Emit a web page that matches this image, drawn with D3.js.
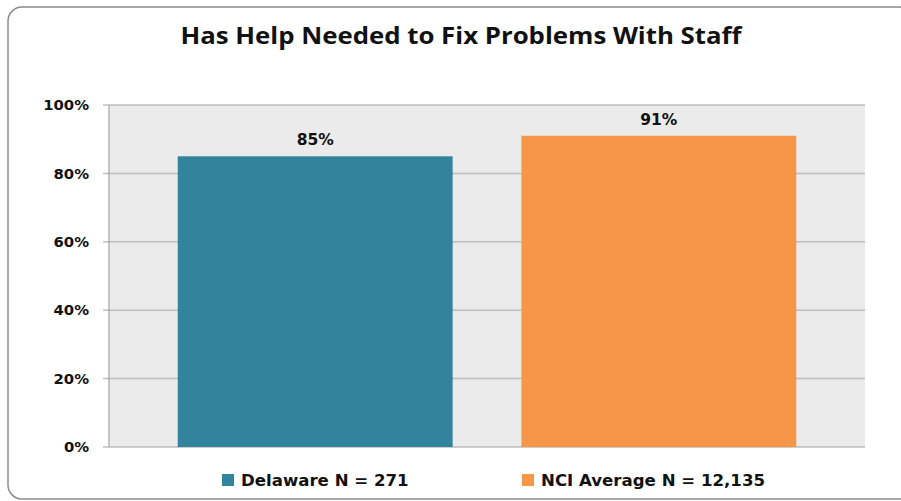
<!DOCTYPE html>
<html><head><meta charset="utf-8">
<script src="https://cdn.jsdelivr.net/npm/d3@7"></script>
<style>body{margin:0;background:#fff}svg{display:block}</style>
</head><body>
<script>
const categories = ["Delaware N = 271", "NCI Average N = 12,135"];
const values = [85, 91];
const colors = ["#31849B", "#F79646"];
const tickValues = [0, 20, 40, 60, 80, 100];
const title = "Has Help Needed to Fix Problems With Staff";

(function () {
const W = 901, H = 501;
const svg = d3.select("body").append("svg").attr("width", W).attr("height", H);

svg.append("rect").attr("x", 8).attr("y", 7).attr("width", 905).attr("height", 492)
  .attr("rx", 14).attr("fill", "#fff").attr("stroke", "#8c8c8c").attr("stroke-width", 1.5);

svg.append("text").attr("x", 461).attr("y", 44).attr("text-anchor", "middle")
  .attr("font-family", "'Open Sans', sans-serif").attr("font-weight", "bold")
  .attr("font-size", 24).attr("textLength", 561).attr("lengthAdjust", "spacingAndGlyphs")
  .attr("fill", "#111").text(title);

const pL = 109, pR = 865, pT = 105, pB = 447;
const y = d3.scaleLinear().domain([0, 100]).range([pB, pT]);
const x = d3.scaleBand().domain(categories).range([pL, pR]).padding(0.2);

svg.append("rect").attr("x", pL).attr("y", pT).attr("width", pR - pL).attr("height", pB - pT)
  .attr("fill", "#EBEBEB");

svg.append("g").attr("transform", `translate(${pL - 6},0)`)
  .call(d3.axisLeft(y).tickValues(tickValues).tickSize(0).tickFormat(d => d + "%").tickPadding(14))
  .call(s => s.select(".domain").remove())
  .call(s => s.selectAll("text").attr("font-family", "'DejaVu Sans', Verdana, sans-serif")
    .attr("font-weight", "bold").attr("font-size", 14.8).attr("fill", "#111"));

svg.append("g").selectAll("line").data(tickValues).join("line")
  .attr("x1", pL - 6).attr("x2", pR).attr("y1", d => y(d)).attr("y2", d => y(d))
  .attr("stroke", "#BDBDBD").attr("stroke-width", 1.5);

svg.append("line").attr("x1", pL).attr("x2", pL).attr("y1", pT).attr("y2", pB)
  .attr("stroke", "#A6A6A6").attr("stroke-width", 1.2);

svg.append("g").selectAll("rect").data(values).join("rect")
  .attr("x", (d, i) => x(categories[i])).attr("width", x.bandwidth())
  .attr("y", d => y(d)).attr("height", d => pB - y(d))
  .attr("fill", (d, i) => colors[i]);

svg.append("g").selectAll("text").data(values).join("text")
  .attr("x", (d, i) => x(categories[i]) + x.bandwidth() / 2)
  .attr("y", d => y(d) - 11).attr("text-anchor", "middle")
  .attr("font-family", "'DejaVu Sans', Verdana, sans-serif").attr("font-weight", "bold")
  .attr("font-size", 15.5).attr("fill", "#111").text(d => d + "%");

const legX = [222, 522];
const leg = svg.append("g").selectAll("g").data(categories).join("g")
  .attr("transform", (d, i) => `translate(${legX[i]},474)`);
leg.append("rect").attr("width", 12).attr("height", 12).attr("fill", (d, i) => colors[i]);
leg.append("text").attr("x", 19).attr("y", 12)
  .attr("font-family", "'DejaVu Sans', Verdana, sans-serif").attr("font-weight", "bold")
  .attr("font-size", 16.6).attr("fill", "#111").text(d => d);
})();
</script>
</body></html>
